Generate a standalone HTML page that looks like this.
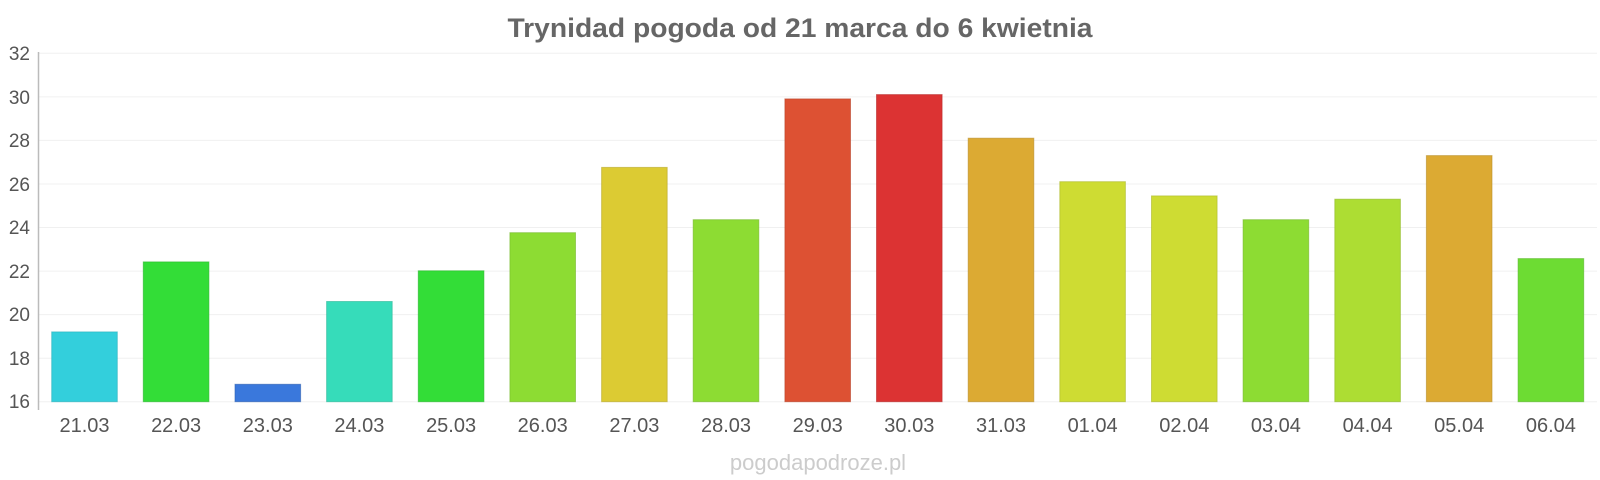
<!DOCTYPE html>
<html><head><meta charset="utf-8"><style>html,body{margin:0;padding:0;background:#fff}svg{display:block}</style></head>
<body>
<svg width="1600" height="480" xmlns="http://www.w3.org/2000/svg" font-family="Liberation Sans, sans-serif">
<rect width="1600" height="480" fill="#fff"/>
<text x="800" y="37" text-anchor="middle" font-size="27" font-weight="bold" fill="#666" textLength="585" lengthAdjust="spacingAndGlyphs">Trynidad pogoda od 21 marca do 6 kwietnia</text>
<g stroke="#f0f0f0" stroke-width="1">
<line x1="38" x2="1597" y1="53.3" y2="53.3"/><line x1="38" x2="1597" y1="96.9" y2="96.9"/><line x1="38" x2="1597" y1="140.4" y2="140.4"/><line x1="38" x2="1597" y1="184" y2="184"/><line x1="38" x2="1597" y1="227.5" y2="227.5"/><line x1="38" x2="1597" y1="271.1" y2="271.1"/><line x1="38" x2="1597" y1="314.6" y2="314.6"/><line x1="38" x2="1597" y1="358.2" y2="358.2"/><line x1="38" x2="1597" y1="401.7" y2="401.7"/>
</g>
<line x1="38.5" x2="38.5" y1="52" y2="410" stroke="#bbb" stroke-width="1.5"/>
<g font-size="19" fill="#555" text-anchor="end">
<text x="30" y="60">32</text><text x="30" y="104">30</text><text x="30" y="147">28</text><text x="30" y="191">26</text><text x="30" y="234">24</text><text x="30" y="278">22</text><text x="30" y="321">20</text><text x="30" y="365">18</text><text x="30" y="408">16</text>
</g>
<g stroke-opacity="0.6" stroke-width="1">
<rect x="51.7" y="331.9" width="65.6" height="69.8" fill="#33cfdc" stroke="#2ab0bb"/>
<rect x="143.3" y="261.9" width="65.6" height="139.8" fill="#33dd37" stroke="#2ab82d"/>
<rect x="235" y="384.3" width="65.6" height="17.4" fill="#3a78dc" stroke="#2f60b0"/>
<rect x="326.6" y="301.5" width="65.6" height="100.2" fill="#36dcba" stroke="#2bb898"/>
<rect x="418.3" y="270.8" width="65.6" height="130.9" fill="#33dd37" stroke="#2ab82d"/>
<rect x="509.9" y="232.7" width="65.6" height="169" fill="#8ddc33" stroke="#74b82a"/>
<rect x="601.6" y="167.4" width="65.6" height="234.3" fill="#dccb33" stroke="#b8a82a"/>
<rect x="693.2" y="219.7" width="65.6" height="182" fill="#8ddc33" stroke="#74b82a"/>
<rect x="784.9" y="98.9" width="65.6" height="302.8" fill="#dd5133" stroke="#b8432a"/>
<rect x="876.5" y="94.6" width="65.6" height="307.1" fill="#dc3333" stroke="#b82a2a"/>
<rect x="968.2" y="138.2" width="65.6" height="263.5" fill="#dcaa33" stroke="#b88d2a"/>
<rect x="1059.8" y="181.7" width="65.6" height="220" fill="#cedc33" stroke="#abb82a"/>
<rect x="1151.5" y="195.9" width="65.6" height="205.8" fill="#cedc33" stroke="#abb82a"/>
<rect x="1243.1" y="219.7" width="65.6" height="182" fill="#8ddc33" stroke="#74b82a"/>
<rect x="1334.8" y="199.2" width="65.6" height="202.5" fill="#addd33" stroke="#90b82a"/>
<rect x="1426.4" y="155.6" width="65.6" height="246.1" fill="#dcaa33" stroke="#b88d2a"/>
<rect x="1518.1" y="258.6" width="65.6" height="143.1" fill="#6ddc33" stroke="#5ab82a"/>
</g>
<g font-size="20" fill="#555" text-anchor="middle">
<text x="84.5" y="432">21.03</text><text x="176.1" y="432">22.03</text><text x="267.8" y="432">23.03</text><text x="359.4" y="432">24.03</text><text x="451.1" y="432">25.03</text><text x="542.7" y="432">26.03</text><text x="634.4" y="432">27.03</text><text x="726" y="432">28.03</text><text x="817.7" y="432">29.03</text><text x="909.3" y="432">30.03</text><text x="1001" y="432">31.03</text><text x="1092.6" y="432">01.04</text><text x="1184.3" y="432">02.04</text><text x="1275.9" y="432">03.04</text><text x="1367.6" y="432">04.04</text><text x="1459.2" y="432">05.04</text><text x="1550.9" y="432">06.04</text>
</g>
<text x="818" y="470" text-anchor="middle" font-size="22" fill="#ccc">pogodapodroze.pl</text>
</svg>
</body></html>
